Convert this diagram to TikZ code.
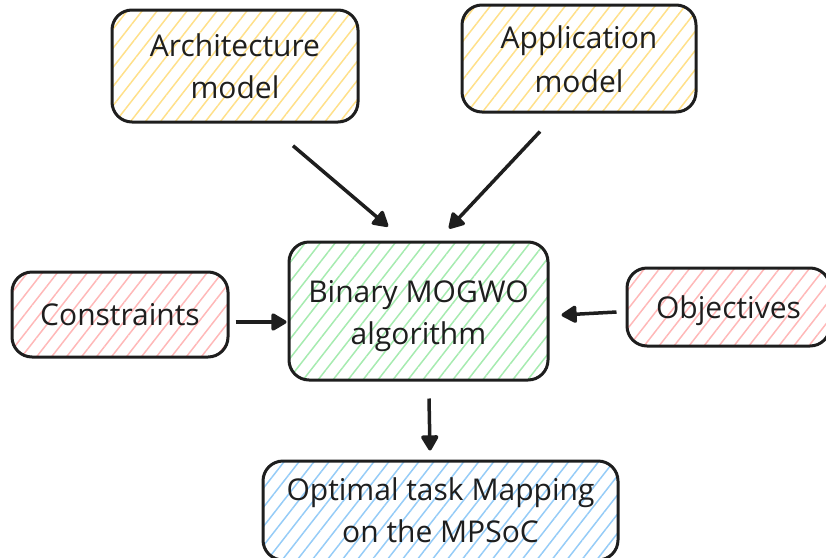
\documentclass[tikz,border=0pt]{standalone}
\usepackage{fontspec}
\setmainfont{Open Sans}
\usetikzlibrary{arrows.meta,patterns.meta,calc}

\definecolor{ink}{HTML}{1E1E1E}
\definecolor{hyellow}{HTML}{FFE08A}
\definecolor{hgreen}{HTML}{A6EBB0}
\definecolor{hred}{HTML}{FFB8B8}
\definecolor{hblue}{HTML}{96CCF7}

% lower a line of text without changing its reported size
\newcommand{\dropby}[2]{\raisebox{-#1}[\height][\depth]{#2}}

\tikzset{
  x=1pt, y=-1pt,
  box/.style={draw=ink, line width=3pt, rounded corners=20pt, align=center,
    text=ink, inner sep=0pt,
    font=\fontsize{30}{42}\selectfont},
  hatchfill/.style={pattern={Lines[angle=52, distance=11.8pt, line width=1.5pt]},
    pattern color=#1},
  link/.style={draw=ink, line width=3.5pt,
    -{Triangle[length=17pt,width=19pt,round]}},
}

\begin{document}
\begin{tikzpicture}
\useasboundingbox (0,0) rectangle (826,557);

\node[box, hatchfill=hyellow, minimum width=246pt, minimum height=112pt]
  (arch) at (235,66) {Architecture\\model};
\node[box, hatchfill=hyellow, minimum width=234pt, minimum height=107pt]
  (app) at (579,58.5) {Application\\\dropby{2pt}{model}};
\node[box, hatchfill=hgreen, minimum width=259pt, minimum height=138pt]
  (algo) at (418.5,311) {\dropby{5pt}{Binary MOGWO}\\\dropby{5pt}{algorithm}};
\node[box, hatchfill=hred, minimum width=216pt, minimum height=85pt]
  (cons) at (120,314.5) {Constraints};
\node[box, hatchfill=hred, minimum width=203pt, minimum height=78pt]
  (obj) at (728.5,307) {\dropby{4pt}{Objectives}};
\node[box, hatchfill=hblue, minimum width=355pt, minimum height=99pt]
  (map) at (440.5,510.5) {Optimal task Mapping\\on the MPSoC};

\draw[link] ($(arch.south)+(58,23)$) -- ($(algo.north)+(-30.5,-14)$);
\draw[link] ($(app.south)+(-39,18)$) -- ($(algo.north)+(30.5,-12)$);
\draw[link] ($(cons.east)+(6,7.5)$) -- ($(algo.west)+(-1,11)$);
\draw[link] ($(obj.west)+(-9,5)$) -- ($(algo.east)+(12,4)$);
\draw[link] ($(algo.south)+(10.5,17)$) -- ($(map.north)+(-10.5,-9)$);
\end{tikzpicture}
\end{document}
